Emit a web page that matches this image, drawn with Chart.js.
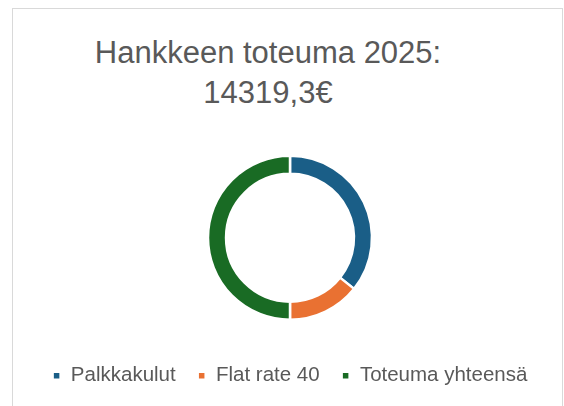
<!DOCTYPE html>
<html>
<head>
<meta charset="utf-8">
<script src="https://cdn.jsdelivr.net/npm/chart.js@4"></script>
<style>
  html, body { margin: 0; padding: 0; background: #fff; }
  #frame {
    position: absolute; left: 12px; top: 8px; width: 549px; height: 420px;
    border: 1px solid #d9d9d9; border-bottom: none;
  }
  #title {
    position: absolute; left: 0; top: 33px; width: 536px; text-align: center;
    font-family: "Liberation Sans", Arial, sans-serif; font-size: 31px; line-height: 40px;
    color: #595959;
  }
  #wrap { position: absolute; left: 13px; top: 132px; width: 550px; height: 277px; }
</style>
</head>
<body>
<div id="frame"></div>
<div id="title">Hankkeen toteuma 2025:<br>14319,3€</div>
<div id="wrap"><canvas id="chart"></canvas></div>
<script>
// Slices: wages, 40% flat rate, and the total itself
const categories = ['Palkkakulut', 'Flat rate 40', 'Toteuma yhteensä'];
const amounts = [10228.07, 4091.23, 14319.3];
const colors = ['#1a5e87', '#e97132', '#196b24'];

document.addEventListener('DOMContentLoaded', function() {
    const ctx = document.getElementById('chart').getContext('2d');

    new Chart(ctx, {
        type: 'doughnut',
        data: {
            labels: categories,
            datasets: [{
                data: amounts,
                backgroundColor: colors,
                borderColor: '#ffffff',
                borderWidth: 2.5
            }]
        },
        options: {
            responsive: true,
            maintainAspectRatio: false,
            animation: false,
            radius: 82,
            cutout: '78%',
            layout: { padding: { left: 4, bottom: 13 } },
            plugins: {
                title: { display: false },
                tooltip: { enabled: false },
                legend: {
                    position: 'bottom',
                    labels: {
                        boxWidth: 8,
                        boxHeight: 8,
                        padding: 22,
                        color: '#595959',
                        font: { family: 'Liberation Sans', size: 20.5 }
                    }
                }
            }
        }
    });
});
</script>
</body>
</html>
